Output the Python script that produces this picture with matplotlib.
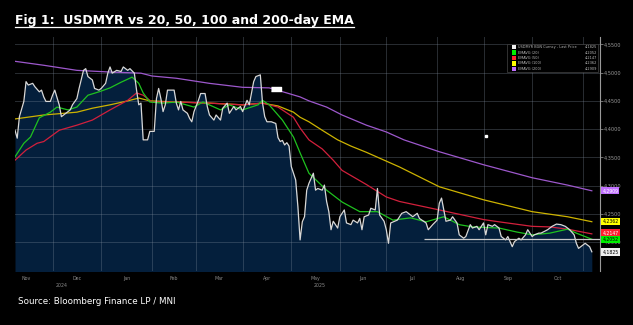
import numpy as np
import pandas as pd
import matplotlib
matplotlib.use("Agg")
import matplotlib.pyplot as plt
from matplotlib.lines import Line2D
from matplotlib.patches import Rectangle
import matplotlib.transforms as mtransforms

# trading days counted from 7 Nov 2024
start = "2024-11-07"
price_day = [0, 1, 2, 4, 5, 6, 8, 9, 11, 12, 13, 14, 16, 17, 18, 20, 21, 23, 25, 26,
             28, 29, 31, 32, 33, 35, 36, 38, 39, 41, 42, 43, 44, 46, 48, 49, 51, 52, 54, 55,
             56, 57, 58, 60, 61, 63, 64, 65, 66, 67, 68, 69, 72, 73, 74, 75, 76, 78, 79, 80,
             81, 83, 84, 86, 87, 88, 90, 91, 93, 94, 96, 97, 99, 100, 102, 103, 105, 106, 108, 109,
             111, 112, 113, 114, 116, 118, 119, 120, 121, 122, 123, 124, 125, 127, 128, 129, 130, 131, 132, 133,
             135, 136, 137, 139, 140, 141, 142, 143, 144, 146, 147, 149, 150, 152, 153, 155, 156, 157, 158, 160,
             161, 163, 164, 165, 167, 168, 169, 170, 173, 175, 177, 180, 182, 183, 186, 187, 189, 191, 192, 193,
             194, 195, 197, 198, 200, 201, 203, 204, 206, 207, 209, 210, 212, 213, 214, 216, 217, 219, 220, 222,
             223, 225, 226, 228, 229, 231, 232, 234, 235, 237, 238, 241, 243, 245, 247, 249, 251, 253, 254, 255,
             257, 258, 260, 261]
price = [4.398, 4.384, 4.422, 4.449, 4.484, 4.478, 4.481, 4.475, 4.466, 4.469, 4.457, 4.449, 4.449, 4.460, 4.469, 4.443, 4.422, 4.428, 4.434, 4.443,
         4.454, 4.472, 4.504, 4.507, 4.493, 4.487, 4.472, 4.469, 4.472, 4.481, 4.499, 4.510, 4.499, 4.504, 4.502, 4.510, 4.504, 4.507, 4.499, 4.469,
         4.443, 4.446, 4.381, 4.381, 4.396, 4.396, 4.454, 4.472, 4.454, 4.431, 4.443, 4.469, 4.469, 4.446, 4.434, 4.449, 4.434, 4.428, 4.419, 4.413,
         4.431, 4.451, 4.463, 4.463, 4.440, 4.425, 4.416, 4.425, 4.416, 4.437, 4.446, 4.428, 4.440, 4.434, 4.440, 4.431, 4.451, 4.443, 4.484, 4.493,
         4.496, 4.446, 4.422, 4.413, 4.413, 4.410, 4.385, 4.378, 4.380, 4.372, 4.376, 4.370, 4.334, 4.310, 4.263, 4.204, 4.236, 4.245, 4.292, 4.304,
         4.322, 4.292, 4.295, 4.292, 4.301, 4.272, 4.254, 4.222, 4.237, 4.225, 4.245, 4.257, 4.234, 4.231, 4.239, 4.234, 4.242, 4.222, 4.245, 4.248,
         4.260, 4.257, 4.295, 4.248, 4.237, 4.222, 4.198, 4.234, 4.239, 4.251, 4.254, 4.245, 4.251, 4.242, 4.234, 4.222, 4.231, 4.239, 4.269, 4.278,
         4.257, 4.237, 4.239, 4.245, 4.234, 4.213, 4.207, 4.210, 4.231, 4.225, 4.228, 4.222, 4.234, 4.213, 4.231, 4.228, 4.231, 4.225, 4.210, 4.204,
         4.210, 4.192, 4.201, 4.207, 4.204, 4.213, 4.222, 4.210, 4.213, 4.216, 4.216, 4.222, 4.228, 4.232, 4.231, 4.228, 4.222, 4.213, 4.198, 4.189,
         4.195, 4.198, 4.192, 4.183]

ema20_day = [0, 4, 7, 11, 16, 19, 24, 28, 33, 38, 43, 48, 53, 56, 58, 61, 67, 73, 81, 85,
             93, 97, 103, 110, 112, 115, 121, 126, 129, 133, 141, 148, 156, 164, 171, 179, 186, 194, 201, 207,
             219, 227, 234, 242, 250, 254, 261]
ema20 = [4.351, 4.375, 4.386, 4.420, 4.430, 4.439, 4.434, 4.439, 4.460, 4.466, 4.473, 4.483, 4.492, 4.481, 4.464, 4.448, 4.446, 4.448, 4.439, 4.448,
         4.434, 4.443, 4.434, 4.443, 4.451, 4.443, 4.416, 4.386, 4.358, 4.322, 4.292, 4.271, 4.254, 4.254, 4.239, 4.243, 4.236, 4.245, 4.231, 4.227,
         4.225, 4.218, 4.213, 4.216, 4.223, 4.216, 4.2052]

ema50_day = [0, 5, 10, 13, 20, 28, 35, 43, 51, 55, 58, 62, 73, 88, 103, 112, 119, 126, 129, 133,
             139, 144, 148, 159, 168, 174, 192, 212, 219, 234, 242, 250, 261]
ema50 = [4.345, 4.363, 4.375, 4.378, 4.398, 4.407, 4.416, 4.434, 4.451, 4.464, 4.460, 4.448, 4.448, 4.446, 4.443, 4.446, 4.439, 4.421, 4.402, 4.381,
         4.365, 4.345, 4.327, 4.302, 4.280, 4.272, 4.257, 4.240, 4.236, 4.228, 4.227, 4.223, 4.2147]

ema100_day = [0, 13, 28, 35, 43, 51, 56, 61, 73, 88, 103, 112, 119, 126, 129, 133, 139, 146, 152, 159,
              174, 192, 212, 234, 250, 261]
ema100 = [4.418, 4.425, 4.430, 4.437, 4.443, 4.450, 4.455, 4.450, 4.448, 4.446, 4.443, 4.446, 4.441, 4.430, 4.421, 4.413, 4.398, 4.381, 4.370, 4.359,
          4.333, 4.298, 4.275, 4.254, 4.245, 4.2362]

ema200_day = [0, 13, 28, 43, 57, 62, 73, 88, 103, 115, 123, 129, 133, 141, 148, 159, 168, 176, 192, 212,
              234, 250, 261]
ema200 = [4.520, 4.513, 4.504, 4.501, 4.499, 4.494, 4.490, 4.481, 4.474, 4.473, 4.464, 4.457, 4.450, 4.439, 4.425, 4.407, 4.395, 4.381, 4.360, 4.337,
          4.314, 4.301, 4.2909]

line_level = 4.206
line_from = 185
event_day = [118, 213]
event_val = [4.471, 4.388]

series_names = ["USDMYR BGN Curncy - Last Price", "EMAVG (20)", "EMAVG (50)", "EMAVG (100)", "EMAVG (200)"]
last_vals = [4.1825, 4.2052, 4.2147, 4.2362, 4.2909]
colors = ["#ffffff", "#1fc21f", "#d2203c", "#cdb300", "#9d58cc"]
tag_colors = ["#f0f0f0", "#00ee00", "#ff2030", "#ffff00", "#c070ff"]
tag_text = ["black", "black", "white", "black", "white"]

months = ["Nov", "Dec", "Jan", "Feb", "Mar", "Apr", "May", "Jun", "Jul", "Aug", "Sep", "Oct"]

W, H = 633, 325
fig = plt.figure(figsize=(W / 100, H / 100), dpi=100, facecolor="black")
ax = fig.add_axes([15 / W, 1 - 271 / H, 585 / W, 234 / H])
ax.set_facecolor("black")

days = pd.bdate_range(start, periods=266)
x_end = 264.7
ax.set_xlim(0, x_end)
ax.set_ylim(4.149, 4.563)

# area under the price
ax.fill_between(price_day, price, 4.0, color="#041f3c", zorder=1, lw=0)

# grid
yt = np.arange(4.20, 4.551, 0.05)
for v in yt:
    ax.axhline(v, color="#7a8898", alpha=0.33, lw=0.7, zorder=2)
month_starts = pd.date_range("2024-12-01", "2025-11-01", freq="MS")
grid_pos = [int(days.searchsorted(m)) for m in month_starts]
for g in grid_pos:
    ax.axvline(g, color="#7a8898", alpha=0.33, lw=0.7, zorder=2)

ax.plot(ema200_day, ema200, color=colors[4], lw=0.9, zorder=3)
ax.plot(ema100_day, ema100, color=colors[3], lw=0.9, zorder=3)
ax.plot(ema50_day, ema50, color=colors[2], lw=0.9, zorder=3)
ax.plot(ema20_day, ema20, color=colors[1], lw=0.9, zorder=3)
ax.plot(price_day, price, color="#d8d8d8", lw=0.9, zorder=4)
ax.hlines(line_level, line_from, x_end, color="#c8c8c8", lw=0.9, zorder=4)
blob = [(-1, -0.5), (1, -0.5), (1, 0.5), (-1, 0.5)]
ax.plot(event_day[:1], event_val[:1], marker=blob, ms=7, color="white", zorder=5, ls="none")
ax.plot(event_day[1:], event_val[1:], marker="s", ms=1.5, color="white", zorder=5, ls="none")

# axes cosmetics
for s in ["top", "left", "bottom"]:
    ax.spines[s].set_visible(False)
ax.spines["right"].set_color("#9a9a9a")
ax.spines["right"].set_linewidth(0.8)
ax.yaxis.tick_right()
ax.set_yticks(yt)
ax.set_yticklabels([f"{v:.4f}".replace(".", ",") for v in yt])
ax.tick_params(axis="y", colors="#9a9a9a", labelsize=3.6, length=2, width=0.5, pad=1)
ax.set_xticks([])

# month labels
bounds = [0] + grid_pos
centers = [(bounds[k] + bounds[k + 1]) / 2 if k > 0 else 5 for k in range(len(months))]
trans = mtransforms.blended_transform_factory(ax.transData, ax.transAxes)
for k, m in enumerate(months):
    ax.text(centers[k], -0.02, m, transform=trans, ha="center", va="top", fontsize=3.4, color="#8a8a8a")
ax.text(grid_pos[0] + 4, -0.05, "2024", transform=trans, ha="center", va="top", fontsize=3.4, color="#8a8a8a")
ax.text(centers[6] + 2, -0.05, "2025", transform=trans, ha="center", va="top", fontsize=3.4, color="#8a8a8a")

# value tags on right axis
tag_y = [4.1825, 4.2052, 4.2165, 4.2362, 4.2909]
tagtrans = mtransforms.blended_transform_factory(ax.transAxes, ax.transData)
for k in range(5):
    ax.text(1.004, tag_y[k], f"{last_vals[k]:.4f}".replace(".", ","), transform=tagtrans,
            ha="left", va="center", fontsize=3.3, color=tag_text[k], zorder=6, clip_on=False,
            bbox=dict(boxstyle="square,pad=0.25", fc=tag_colors[k], ec="none"))

# legend box
def fx(px):
    return px / W

def fy(py):
    return 1 - py / H

fig.patches.append(Rectangle((fx(507), fy(72)), fx(91), 28 / H, transform=fig.transFigure,
                             fc="black", ec="#444444", lw=0.5, zorder=5))
rows = [47, 52.5, 58, 63.5, 69]
for k in range(5):
    fig.patches.append(Rectangle((fx(512), fy(rows[k] + 2)), fx(4), 4 / H, transform=fig.transFigure,
                                 fc=tag_colors[k], ec="none", zorder=6))
    fig.text(fx(518), fy(rows[k]), series_names[k], fontsize=2.55, color="#bbbbbb", va="center", ha="left", zorder=7)
    fig.text(fx(597), fy(rows[k]), f"{last_vals[k]:.4f}".replace(".", ","), fontsize=2.55, color="#bbbbbb",
             va="center", ha="right", zorder=7)

# title with underline
title = fig.text(fx(15), fy(24), "Fig 1:  USDMYR vs 20, 50, 100 and 200-day EMA", color="white",
                 fontsize=9, fontweight="bold", ha="left", va="baseline")
fig.text(fx(18), fy(302), "Source: Bloomberg Finance LP / MNI", color="white", fontsize=6.3,
         ha="left", va="center")

fig.canvas.draw()
bb = title.get_window_extent()
fig.add_artist(Line2D([bb.x0 / W, bb.x1 / W], [fy(26.5), fy(26.5)], transform=fig.transFigure,
                      color="white", lw=0.9))

fig.savefig("out.png", dpi=100, facecolor="black")
